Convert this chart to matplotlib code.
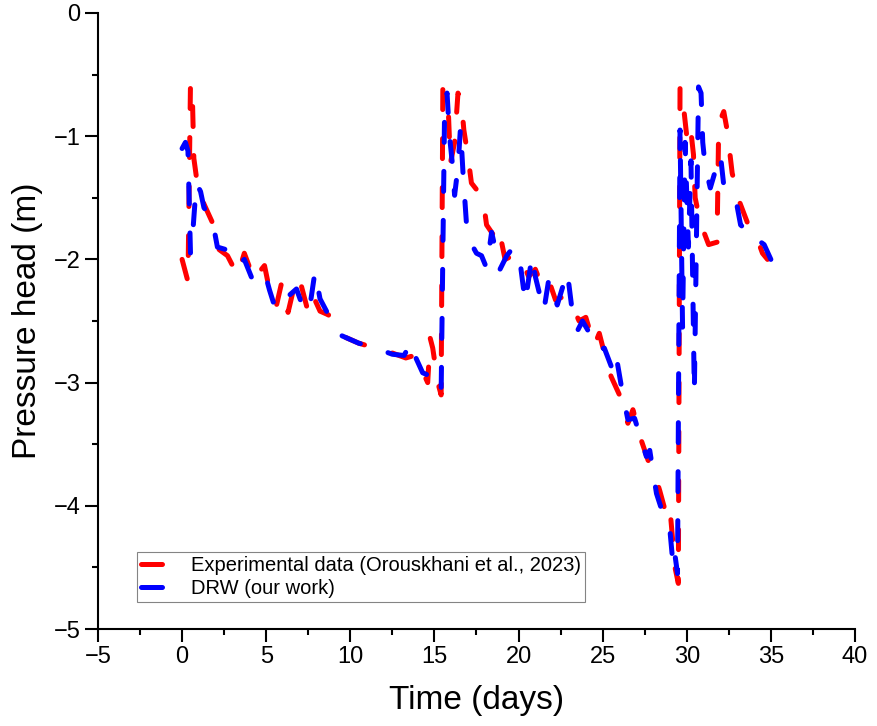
import numpy as np
import matplotlib
matplotlib.use("Agg")
import matplotlib.pyplot as plt
from matplotlib.ticker import MultipleLocator

plt.rcParams['font.family'] = ['Liberation Sans', 'DejaVu Sans']

exp_t = [0.0, 0.35, 0.5, 0.6, 0.7, 0.9, 1.3, 1.8, 2.2, 2.7, 3.3, 3.7, 4.3, 4.6,
         4.9, 5.2, 5.6, 5.9, 6.3, 6.8, 7.1, 7.5, 7.8, 8.2, 8.7, 9.5, 10.5, 11.5,
         12.5, 13.3, 13.8, 14.2, 14.6, 14.75, 14.9, 15.2, 15.4, 15.5, 15.8,
         15.95, 16.2, 16.4, 16.6, 16.75, 17.0, 17.2, 17.6, 17.9, 18.1, 18.5,
         18.8, 19.2, 19.5, 19.8, 20.3, 20.6, 21.0, 21.4, 21.8, 22.2, 22.7, 23.2,
         23.6, 24.0, 24.5, 24.8, 25.1, 25.5, 26.0, 26.5, 26.8, 27.3, 27.7, 28.0,
         28.4, 28.8, 29.0, 29.3, 29.5, 29.6, 29.8, 30.0, 30.2, 30.4, 30.5, 30.8,
         31.3, 31.8, 31.9, 32.2, 32.4, 32.7, 33.1, 33.6, 34.1, 34.5, 34.8]
exp_h = [-2.00, -2.18, -0.57, -0.60, -1.18, -1.38, -1.55, -1.70, -1.92, -1.97,
         -2.13, -1.95, -2.17, -2.10, -2.05, -2.25, -2.38, -2.20, -2.43, -2.14,
         -2.22, -2.43, -2.30, -2.42, -2.45, -2.62, -2.68, -2.72, -2.76, -2.80,
         -2.78, -2.88, -3.00, -2.64, -2.72, -3.00, -3.10, -0.62, -0.70, -1.22,
         -1.05, -0.65, -0.72, -0.95, -1.17, -1.38, -1.45, -1.52, -1.72, -1.80,
         -1.73, -2.00, -1.98, -2.05, -2.04, -2.14, -2.08, -2.22, -2.17, -2.33,
         -2.30, -2.38, -2.50, -2.47, -2.70, -2.60, -2.76, -2.95, -3.10, -3.33,
         -3.22, -3.47, -3.63, -3.70, -3.88, -4.08, -4.02, -4.50, -4.63, -0.60,
         -0.75, -1.00, -0.90, -1.15, -1.50, -1.70, -1.88, -1.86, -0.90, -0.80,
         -0.95, -1.30, -1.52, -1.70, -1.80, -1.95, -2.00]

# DRW model result
drw_t = [0.0, 0.2, 0.35, 0.5, 0.6, 0.85, 1.1, 1.3, 1.8, 2.1, 2.6, 3.0, 3.3, 3.7,
         4.2, 4.6, 5.0, 5.2, 5.5, 5.8, 6.3, 6.8, 7.3, 7.6, 7.9, 8.2, 8.7, 9.5,
         10.5, 11.5, 12.5, 13.2, 13.6, 13.9, 14.3, 14.8, 15.2, 15.4, 15.6,
         15.75, 15.9, 16.05, 16.2, 16.4, 16.55, 16.7, 16.9, 17.1, 17.5, 17.8,
         18.1, 18.4, 18.6, 18.9, 19.3, 19.7, 20.1, 20.4, 20.8, 21.0, 21.5, 21.8,
         22.3, 22.9, 23.2, 23.5, 23.8, 24.1, 24.7, 25.1, 25.6, 25.8, 26.2, 26.5,
         26.9, 27.3, 27.6, 27.8, 28.2, 28.6, 29.0, 29.2, 29.3, 29.45, 29.6,
         29.75, 29.9, 30.1, 30.25, 30.45, 30.7, 30.85, 30.95, 31.1, 31.4, 31.7,
         32.0, 32.2, 32.5, 32.9, 33.2, 33.6, 33.9, 34.3, 34.6, 35.0]
drw_h = [-1.10, -1.05, -1.12, -1.95, -1.85, -1.38, -1.45, -1.58, -1.68, -1.90,
         -1.92, -1.98, -2.05, -2.00, -2.17, -2.10, -2.15, -2.25, -2.38, -2.28,
         -2.30, -2.24, -2.43, -2.38, -2.10, -2.32, -2.45, -2.62, -2.68, -2.72,
         -2.77, -2.78, -2.67, -2.80, -2.92, -2.95, -3.05, -3.08, -0.85, -0.65,
         -1.00, -1.20, -1.48, -1.25, -0.93, -1.30, -1.70, -1.85, -1.95, -1.97,
         -2.07, -1.78, -1.90, -2.08, -1.97, -1.90, -2.03, -2.35, -1.97, -2.14,
         -2.42, -2.16, -2.37, -2.10, -2.43, -2.58, -2.50, -2.57, -2.74, -2.72,
         -2.90, -2.78, -3.10, -3.30, -3.29, -3.47, -3.60, -3.55, -3.90, -4.07,
         -4.20, -4.50, -4.40, -4.55, -0.95, -2.55, -1.05, -1.90, -1.20, -3.08,
         -0.60, -0.65, -1.05, -1.25, -1.42, -1.28, -1.15, -1.40, -1.45, -1.50,
         -1.72, -1.77, -1.76, -1.85, -1.88, -2.00]

fig = plt.figure(figsize=(8.77, 7.26), dpi=100)
ax = fig.add_axes([0.1117, 0.1336, 0.8632, 0.8485])

dash = (4.0, 5.8)  # in units of line width, round caps add the rest
ax.plot(exp_t, exp_h, color='#ff0000', lw=3.6, dashes=dash,
        dash_capstyle='round', dash_joinstyle='round',
        label='Experimental data (Orouskhani et al., 2023)')
ax.plot(drw_t, drw_h, color='#0000ff', lw=3.6, dashes=dash,
        dash_capstyle='round', dash_joinstyle='round',
        label='DRW (our work)')

ax.set_xlim(-5, 40)
ax.set_ylim(-5, 0)
ax.xaxis.set_major_locator(MultipleLocator(5))
ax.xaxis.set_minor_locator(MultipleLocator(2.5))
ax.yaxis.set_major_locator(MultipleLocator(1))
ax.yaxis.set_minor_locator(MultipleLocator(0.5))

for s in ['top', 'right']:
    ax.spines[s].set_visible(False)
for s in ['left', 'bottom']:
    ax.spines[s].set_linewidth(1.5)
ax.tick_params(which='major', direction='out', length=9.5, width=1.5,
               labelsize=17, pad=3)
ax.tick_params(which='minor', direction='out', length=4.5, width=1.5)

ax.set_xlabel('Time (days)', fontsize=24, labelpad=12)
ax.set_ylabel('Pressure head (m)', fontsize=24, labelpad=8)

leg = ax.legend(loc='lower left', bbox_to_anchor=(0.051, 0.044),
                borderaxespad=0, fontsize=14.5, frameon=True, fancybox=False,
                edgecolor='#666666', handlelength=1.05, handletextpad=1.45,
                labelspacing=0.2, borderpad=0.2)
leg.get_frame().set_linewidth(0.8)
for h in leg.get_lines():
    h.set_linestyle('-')
    h.set_solid_capstyle('round')

fig.savefig('out.png', dpi=100)
